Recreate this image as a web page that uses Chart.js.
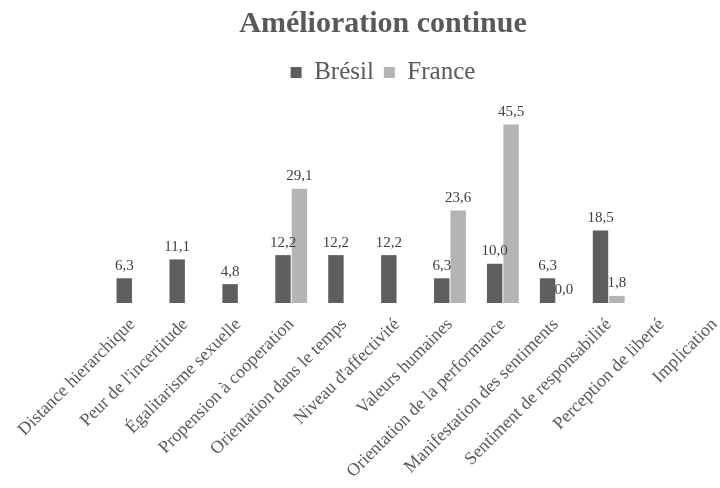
<!DOCTYPE html>
<html>
<head>
<meta charset="utf-8">
<script src="https://cdn.jsdelivr.net/npm/chart.js@4"></script>
<style>
  html, body { margin: 0; padding: 0; background: #fff; overflow: hidden; }
  #wrap { width: 766px; height: 488px; position: relative; }
</style>
</head>
<body>
<div id="wrap"><canvas id="myChart"></canvas></div>
<script>
const categories = [
    'Distance hierarchique', "Peur de l'incertitude", 'Égalitarisme sexuelle',
    'Propension à cooperation', 'Orientation dans le temps', "Niveau d'affectivité",
    'Valeurs humaines', 'Orientation de la performance', 'Manifestation des sentiments',
    'Sentiment de responsabilité', 'Perception de liberté', 'Implication'
];
const bresil = [6.3, 11.1, 4.8, 12.2, 12.2, 12.2, 6.3, 10.0, 6.3, 18.5, null, null];
const france = [null, null, null, 29.1, null, null, 23.6, 45.5, 0.0, 1.8, null, null];

const serif = '"Liberation Serif", "Times New Roman", serif';

// étiquettes de valeurs au-dessus des barres
const valueLabels = {
    id: 'valueLabels',
    afterDatasetsDraw(chart) {
        const ctx = chart.ctx;
        ctx.save();
        ctx.font = '15px ' + serif;
        ctx.fillStyle = '#404040';
        ctx.textAlign = 'center';
        ctx.textBaseline = 'bottom';
        chart.data.datasets.forEach((ds, i) => {
            chart.getDatasetMeta(i).data.forEach((bar, j) => {
                const v = ds.data[j];
                if (v === null) return;
                ctx.fillText(v.toFixed(1).replace('.', ','), bar.x, bar.y - 5);
            });
        });
        ctx.restore();
    }
};

const ctx = document.getElementById('myChart');

new Chart(ctx, {
    type: 'bar',
    data: {
        labels: categories,
        datasets: [
            {
                label: 'Brésil',
                data: bresil,
                backgroundColor: '#5e5e5e',
                barPercentage: 0.94,
                categoryPercentage: 0.62
            },
            {
                label: 'France',
                data: france,
                backgroundColor: '#b4b4b4',
                barPercentage: 0.94,
                categoryPercentage: 0.62
            }]
    },
    plugins: [valueLabels],
    options: {
        responsive: true,
        maintainAspectRatio: false,
        animation: false,
        layout: { padding: 0 },
        plugins: {
            title: {
                display: true,
                text: 'Amélioration continue',
                color: '#595959',
                font: { family: serif, size: 30, weight: 'bold' },
                padding: { top: 6, bottom: 8 }
            },
            legend: {
                labels: {
                    color: '#595959',
                    font: { family: serif, size: 25 },
                    boxWidth: 11,
                    boxHeight: 11,
                    padding: 10
                }
            },
            tooltip: { enabled: false }
        },
        scales: {
            x: {
                grid: { display: false },
                border: { display: false },
                ticks: {
                    color: '#595959',
                    font: { family: serif, size: 18 },
                    minRotation: 45,
                    maxRotation: 45,
                    padding: 3
                },
                afterFit(scale) {
                    scale.height = 185;
                    scale.paddingLeft = 106;
                    scale.paddingRight = 25;
                }
            },
            y: {
                display: false,
                min: 0,
                max: 53
            }
        }
    }
});
</script>
</body>
</html>
